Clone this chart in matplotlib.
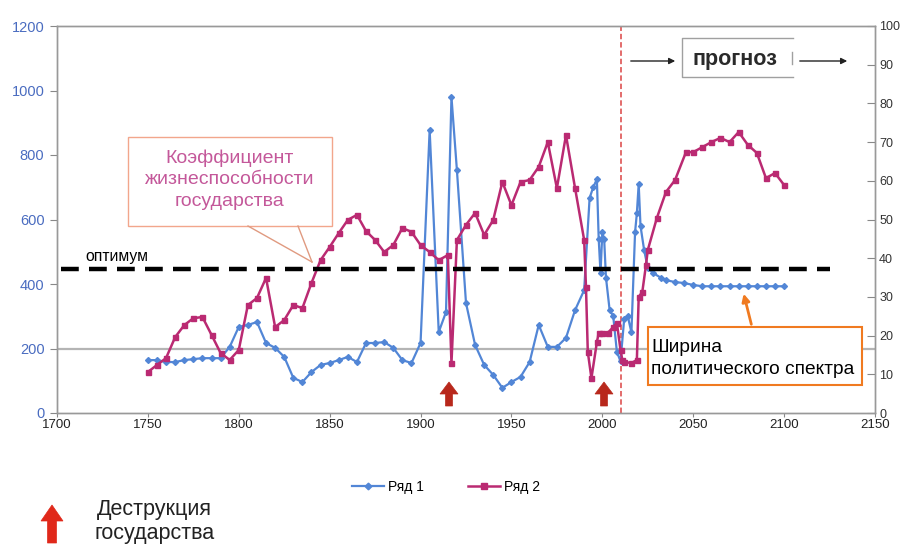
import matplotlib
matplotlib.use('Agg')
import matplotlib.pyplot as plt
from matplotlib.patches import Rectangle, Polygon, FancyArrowPatch
from matplotlib.lines import Line2D

plt.rcParams['font.family'] = ['Liberation Sans', 'DejaVu Sans']

# ---------------- data ----------------
years1 = [1750, 1755, 1760, 1765, 1770, 1775, 1780, 1785, 1790, 1795,
          1800, 1805, 1810, 1815, 1820, 1825, 1830, 1835, 1840, 1845,
          1850, 1855, 1860, 1865, 1870, 1875, 1880, 1885, 1890, 1895,
          1900, 1905, 1910, 1914, 1917, 1920,
          1925, 1930, 1935, 1940, 1945, 1950, 1955, 1960, 1965, 1970,
          1975, 1980, 1985, 1990,
          1993, 1995, 1997, 1998, 1999, 2000, 2001, 2002, 2004, 2006,
          2008, 2010, 2012, 2014, 2016, 2018, 2019, 2020, 2021, 2023,
          2025, 2028, 2032, 2035, 2040, 2045, 2050,
          2055, 2060, 2065, 2070, 2075, 2080, 2085, 2090, 2095, 2100]
series1 = [164, 164, 158, 158, 164, 167, 170, 170, 170, 205,
           267, 273, 282, 217, 202, 174, 109, 96, 127, 149,
           155, 164, 174, 158, 217, 217, 220, 202, 164, 155,
           217, 878, 251, 313, 980, 753,
           341, 211, 149, 118, 78, 96, 112, 158, 273, 205,
           205, 233, 319, 381,
           667, 700, 725, 540, 434, 560, 540, 420, 320, 300,
           190, 160, 290, 300, 250, 560, 620, 710, 580, 505,
           450, 434, 420, 412, 406, 403, 397,
           393, 393, 393, 393, 393, 393, 393, 393, 393, 393]

years2 = [1750, 1755, 1760, 1765, 1770, 1775, 1780, 1785, 1790, 1795,
          1800, 1805, 1810, 1815, 1820, 1825, 1830, 1835, 1840, 1845,
          1850, 1855, 1860, 1865, 1870, 1875, 1880, 1885, 1890, 1895,
          1900, 1905, 1910,
          1915, 1917, 1920, 1925, 1930, 1935, 1940, 1945, 1950, 1955,
          1960, 1965, 1970, 1975, 1980, 1985, 1990,
          1991, 1992, 1994, 1997, 1998, 2000, 2003, 2006, 2008, 2010,
          2011, 2012, 2016, 2019, 2020, 2022, 2024, 2025,
          2030, 2035, 2040, 2046, 2050, 2055, 2060, 2065, 2070, 2075,
          2080, 2085, 2090, 2095, 2100]
series2 = [10.6, 12.4, 14.2, 19.6, 22.7, 24.5, 24.8, 20.2, 15.5, 13.7,
           16.3, 27.9, 29.7, 34.9, 22.2, 24.0, 27.9, 27.1, 33.6, 39.5,
           42.9, 46.5, 49.9, 51.2, 47.0, 44.7, 41.6, 43.4, 47.8, 46.8,
           43.4, 41.6, 39.5,
           40.8, 12.9, 44.7, 48.6, 51.7, 46.0, 49.9, 59.7, 53.7, 59.7,
           60.2, 63.6, 70.0, 58.1, 71.8, 58.1, 44.7,
           32.6, 15.8, 9.0, 18.3, 20.7, 20.7, 20.7, 22.2, 23.3, 16.3,
           13.7, 13.2, 12.9, 13.7, 30.0, 31.3, 38.2, 42.1,
           50.4, 57.1, 60.2, 67.4, 67.4, 68.7, 70.0, 71.1, 70.0, 72.6,
           69.3, 67.2, 60.7, 62.0, 58.9]

optimum = 445
forecast_start = 2010
legend_labels = ['Ряд 1', 'Ряд 2']
xticks = list(range(1700, 2151, 50))
yticks_left = list(range(0, 1201, 200))
yticks_right = list(range(0, 101, 10))

# ---------------- figure ----------------
W, H = 915, 547
fig = plt.figure(figsize=(W / 100, H / 100), dpi=100)


def fx(px):
    return px / W


def fy(py):
    return 1 - py / H


ax = fig.add_axes([fx(57), fy(413), fx(875) - fx(57), fy(26) - fy(413)])
ax.set_xlim(1700, 2150)
ax.set_ylim(0, 1200)
ax2 = ax.twinx()
ax2.set_ylim(0, 100)

BLUE = '#5286d6'
MAG = '#ba2a72'

ax.axhline(200, color='#b4b4b4', lw=1.6, zorder=1)
ax.axvline(forecast_start, color='#e06060', lw=1.3, ls=(0, (3, 1.6)), zorder=2)
ax.plot(years1, series1, color=BLUE, lw=1.6, marker='D', ms=3.0,
        mfc=BLUE, mec=BLUE, zorder=4)
ax2.plot(years2, series2, color=MAG, lw=1.8, marker='s', ms=3.6,
         mfc=MAG, mec=MAG, zorder=3)
ax2.plot([1702, 2125], [optimum / 12, optimum / 12], color='black', lw=3.2,
         dashes=(4, 2.3), zorder=5)

ax.set_xticks(xticks)
ax.set_yticks(yticks_left)
ax2.set_yticks(yticks_right)
ax.tick_params(axis='x', labelsize=9.5, labelcolor='#222', length=3,
               color='#888', pad=1.5)
ax.tick_params(axis='y', labelsize=10.5, labelcolor='#4a6cc0', length=5,
               color='#888', pad=4)
ax2.tick_params(axis='y', labelsize=9, labelcolor='#333', length=6,
                direction='in', color='#888', pad=3)
for a in (ax, ax2):
    for s in a.spines.values():
        s.set_color('#999999')
        s.set_linewidth(1.0)

# legend
handles = [Line2D([], [], color=BLUE, lw=1.6, marker='D', ms=3.4),
           Line2D([], [], color=MAG, lw=1.8, marker='s', ms=4.0)]
fig.legend(handles, legend_labels, loc='center', bbox_to_anchor=(fx(446), fy(487)),
           ncol=2, frameon=False, fontsize=10, handlelength=2.3,
           columnspacing=3.2, handletextpad=0.3)

# "оптимум"
fig.text(fx(85), fy(257), 'оптимум', fontsize=11.3, color='black', va='center')

# callout box
fig.add_artist(Rectangle((fx(128), fy(226)), fx(332) - fx(128), fy(137) - fy(226),
                         transform=fig.transFigure, fc='white', ec='#f2a68c', lw=1.0))
fig.add_artist(Line2D([fx(248), fx(312)], [fy(226), fy(262)],
                      transform=fig.transFigure, color='#e09a80', lw=1.0))
fig.add_artist(Line2D([fx(298), fx(312)], [fy(226), fy(262)],
                      transform=fig.transFigure, color='#e09a80', lw=1.0))
for txt, py in (('Коэффициент', 158), ('жизнеспособности', 180), ('государства', 201)):
    fig.text(fx(230), fy(py), txt, ha='center', va='center', color='#c4589a',
             fontsize=14)

# прогноз box
fig.add_artist(Line2D([fx(793), fx(682), fx(682), fx(793)],
                      [fy(38), fy(38), fy(77), fy(77)],
                      transform=fig.transFigure, color='#a0a0a0', lw=1.0))
fig.add_artist(Line2D([fx(792), fx(792)], [fy(52), fy(64)],
                      transform=fig.transFigure, color='#a0a0a0', lw=1.0))
fig.text(fx(735), fy(59), 'прогноз', ha='center', va='center', fontsize=15.5,
         fontweight='bold', color='#2a2a2a')
for x0, x1 in ((628, 678), (797, 850)):
    fig.add_artist(FancyArrowPatch((fx(x0), fy(61)), (fx(x1), fy(61)),
                                   transform=fig.transFigure, arrowstyle='-|>',
                                   mutation_scale=9, color='#222', lw=1.0))

# orange box
fig.add_artist(Rectangle((fx(648), fy(385)), fx(862) - fx(648), fy(327) - fy(385),
                         transform=fig.transFigure, fc='white', ec='#f07a20', lw=1.5))
fig.text(fx(651), fy(347), 'Ширина', fontsize=13.8, va='center', color='black')
fig.text(fx(651), fy(370), 'политического спектра', fontsize=13.8, va='center',
         color='black')
fig.add_artist(FancyArrowPatch((fx(752), fy(327)), (fx(743), fy(291)),
                               transform=fig.transFigure, arrowstyle='-|>',
                               mutation_scale=11, color='#f07a20', lw=2.0))


def up_arrow(xc, ytop, ybot, head_w, head_len, shaft_w, color):
    pts = [(xc, ytop), (xc + head_w / 2, ytop + head_len),
           (xc + shaft_w / 2, ytop + head_len), (xc + shaft_w / 2, ybot),
           (xc - shaft_w / 2, ybot), (xc - shaft_w / 2, ytop + head_len),
           (xc - head_w / 2, ytop + head_len)]
    fig.add_artist(Polygon([(fx(px), fy(py)) for px, py in pts], closed=True,
                           transform=fig.transFigure, fc=color, ec=color, lw=0.5))


up_arrow(449, 382, 406, 18, 12, 7, '#b8281c')
up_arrow(604, 382, 406, 18, 12, 7, '#b8281c')
up_arrow(52, 505, 543, 22, 16, 9, '#e0281a')

fig.text(fx(97), fy(509), 'Деструкция', fontsize=15.5, va='center', color='#222')
fig.text(fx(95), fy(533), 'государства', fontsize=15.5, va='center', color='#222')

fig.savefig('out.png', dpi=100, facecolor='white')
